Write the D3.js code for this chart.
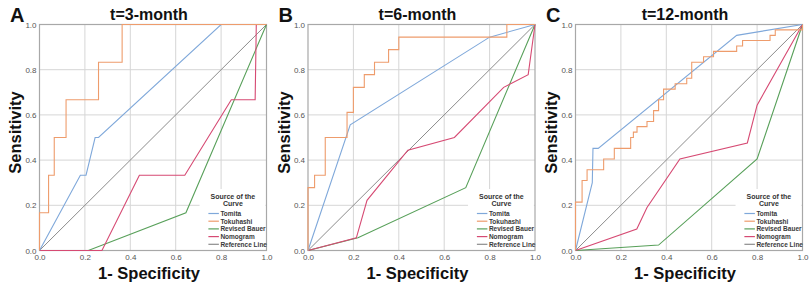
<!DOCTYPE html>
<html><head><meta charset="utf-8">
<script src="https://cdn.jsdelivr.net/npm/d3@7"></script>
<style>
body{margin:0;background:#fff}
svg{display:block}
text{font-family:"Liberation Sans",Arial,Helvetica,sans-serif}
</style>
</head><body>
<svg id="chart" width="812" height="289"></svg>
<script>
// ---------- data ----------
const panelLetters = ["A", "B", "C"];
const panelTitles = ["t=3-month", "t=6-month", "t=12-month"];
const seriesNames = ["Tomita", "Tokuhashi", "Revised Bauer", "Nomogram", "Reference Line"];
const tickValues = [0, 0.2, 0.4, 0.6, 0.8, 1.0];
const xAxisLabel = "1- Specificity";
const yAxisLabel = "Sensitivity";
const legendTitle = ["Source of the", "Curve"];

// [1 - specificity, sensitivity]
const tomita3 = [[0,0],[0.18,0.333],[0.205,0.333],[0.245,0.5],[0.26,0.5],[0.8,1],[1,1]];
const tokuhashi3 = [[0,0],[0,0.167],[0.04,0.167],[0.04,0.333],[0.065,0.333],[0.065,0.5],[0.117,0.5],[0.117,0.667],[0.26,0.667],[0.26,0.833],[0.364,0.833],[0.364,1],[1,1]];
const bauer3 = [[0,0],[0.215,0],[0.645,0.167],[1,1]];
const nomogram3 = [[0,0],[0.275,0],[0.44,0.333],[0.64,0.333],[0.845,0.667],[0.95,0.667],[0.955,1],[1,1]];

const tomita6 = [[0,0],[0.186,0.556],[0.8,0.944],[1,1]];
const tokuhashi6 = [[0,0],[0,0.278],[0.029,0.278],[0.029,0.333],[0.076,0.333],[0.076,0.5],[0.172,0.5],[0.172,0.611],[0.2,0.611],[0.2,0.722],[0.248,0.722],[0.248,0.778],[0.293,0.778],[0.293,0.833],[0.355,0.833],[0.355,0.889],[0.4,0.889],[0.4,0.944],[0.876,0.944],[0.876,1],[1,1]];
const bauer6 = [[0,0],[0.22,0.056],[0.695,0.278],[1,1]];
const nomogram6 = [[0,0],[0.213,0.056],[0.26,0.222],[0.44,0.444],[0.645,0.5],[0.862,0.722],[0.97,0.778],[1,1]];

const tomita12 = [[0,0],[0.074,0.3],[0.077,0.452],[0.1,0.452],[0.71,0.952],[1,1]];
const tokuhashi12 = [[0,0],[0,0.214],[0.029,0.214],[0.029,0.31],[0.051,0.31],[0.051,0.357],[0.124,0.357],[0.124,0.405],[0.171,0.405],[0.171,0.452],[0.243,0.452],[0.243,0.5],[0.255,0.5],[0.255,0.524],[0.271,0.524],[0.271,0.548],[0.315,0.548],[0.315,0.571],[0.344,0.571],[0.344,0.619],[0.366,0.619],[0.366,0.667],[0.388,0.667],[0.388,0.714],[0.439,0.714],[0.439,0.738],[0.49,0.738],[0.49,0.762],[0.512,0.762],[0.512,0.833],[0.564,0.833],[0.564,0.857],[0.608,0.857],[0.608,0.881],[0.71,0.881],[0.71,0.905],[0.736,0.905],[0.736,0.929],[0.857,0.929],[0.857,0.952],[0.88,0.952],[0.88,0.976],[1,0.976],[1,1]];
const bauer12 = [[0,0],[0.366,0.024],[0.8,0.405],[1,1]];
const nomogram12 = [[0,0],[0.27,0.095],[0.315,0.19],[0.46,0.405],[0.757,0.476],[0.8,0.643],[1,1]];

const referenceLine = [[0,0],[1,1]];

// ---------- layout & style ----------
const panelLeft = [39.5, 308, 575.5];
const plotW = 227, plotTop = 24.5, plotBottom = 250.5;
const colors = ["#7FA8DA", "#EE9C6C", "#58A05A", "#D64A73", "#8C8C8C"];

const panelSeries = [
  [tomita3, tokuhashi3, bauer3, nomogram3],
  [tomita6, tokuhashi6, bauer6, nomogram6],
  [tomita12, tokuhashi12, bauer12, nomogram12]
];

const svg = d3.select("#chart");

panelLetters.forEach((letter, i) => {
  const x0 = panelLeft[i];
  const x = d3.scaleLinear().domain([0, 1]).range([x0, x0 + plotW]);
  const y = d3.scaleLinear().domain([0, 1]).range([plotBottom, plotTop]);
  const g = svg.append("g");
  const cx = x0 + plotW / 2;

  // grid
  const inner = tickValues.filter(v => v > 0 && v < 1);
  g.selectAll(".vg").data(inner).join("line")
    .attr("x1", d => x(d)).attr("x2", d => x(d))
    .attr("y1", y(0)).attr("y2", y(1))
    .attr("stroke", "#D6D6D6").attr("stroke-width", 1);
  g.selectAll(".hg").data(inner).join("line")
    .attr("y1", d => y(d)).attr("y2", d => y(d))
    .attr("x1", x(0)).attr("x2", x(1))
    .attr("stroke", "#D6D6D6").attr("stroke-width", 1);

  // legend background (hides grid)
  g.append("rect")
    .attr("x", x(0.705)).attr("y", y(0.272))
    .attr("width", x(0.995) - x(0.705)).attr("height", y(0.004) - y(0.272))
    .attr("fill", "#fff");

  // frame
  g.append("rect")
    .attr("x", x(0)).attr("y", y(1))
    .attr("width", plotW).attr("height", plotBottom - plotTop)
    .attr("fill", "none").attr("stroke", "#A8A8A8").attr("stroke-width", 1.2);

  // axes ticks labels
  const xAxis = d3.axisBottom(x).tickValues(tickValues).tickFormat(d3.format(".1f")).tickSize(0).tickPadding(4);
  const yAxis = d3.axisLeft(y).tickValues(tickValues).tickFormat(d3.format(".1f")).tickSize(0).tickPadding(3);
  const gx = g.append("g").attr("transform", `translate(0,${plotBottom})`).call(xAxis);
  const gy = g.append("g").attr("transform", `translate(${x0},0)`).call(yAxis);
  [gx, gy].forEach(a => {
    a.select(".domain").remove();
    a.selectAll("text").attr("font-size", 8).attr("fill", "#555")
      .attr("font-family", "'Liberation Sans',Arial,sans-serif");
  });

  // curves
  const line = d3.line().x(d => x(d[0])).y(d => y(d[1]));
  g.append("path").datum(referenceLine).attr("d", line)
    .attr("fill", "none").attr("stroke", colors[4]).attr("stroke-width", 1);
  const order = [2, 3, 0, 1];
  order.forEach(k => {
    g.append("path").datum(panelSeries[i][k]).attr("d", line)
      .attr("fill", "none").attr("stroke", colors[k]).attr("stroke-width", 1.1)
      .attr("stroke-linejoin", "miter");
  });

  // legend
  const lx = x(0.852);
  legendTitle.forEach((t, j) => {
    g.append("text").attr("x", lx).attr("y", plotBottom - 52 + j * 7.5)
      .attr("text-anchor", "middle").attr("font-size", 7).attr("font-weight", "bold")
      .attr("fill", "#333").text(t);
  });
  seriesNames.forEach((name, k) => {
    const ey = plotBottom - 37 + k * 7.7;
    g.append("line").attr("x1", x(0.744)).attr("x2", x(0.744) + 10.5)
      .attr("y1", ey).attr("y2", ey)
      .attr("stroke", colors[k]).attr("stroke-width", 1.2);
    g.append("text").attr("x", x(0.744) + 12).attr("y", ey + 2.3)
      .attr("font-size", 6.5).attr("font-weight", "bold").attr("fill", "#3a3a3a").text(name);
  });

  // titles & labels
  g.append("text").attr("x", x0 - 29.5).attr("y", 22)
    .attr("font-size", 20).attr("font-weight", "bold").attr("fill", "#111").text(letter);
  g.append("text").attr("x", cx - 4).attr("y", 20)
    .attr("text-anchor", "middle").attr("font-size", 16).attr("font-weight", "bold")
    .attr("fill", "#111").text(panelTitles[i]);
  g.append("text").attr("x", cx - 4).attr("y", 279)
    .attr("text-anchor", "middle").attr("font-size", 16.5).attr("font-weight", "bold")
    .attr("fill", "#111").text(xAxisLabel);
  g.append("text")
    .attr("transform", `translate(${x0 - 18.5},${(plotTop + plotBottom) / 2 - 5}) rotate(-90)`)
    .attr("text-anchor", "middle").attr("font-size", 16.5).attr("font-weight", "bold")
    .attr("fill", "#111").text(yAxisLabel);
});
</script>
</body></html>
